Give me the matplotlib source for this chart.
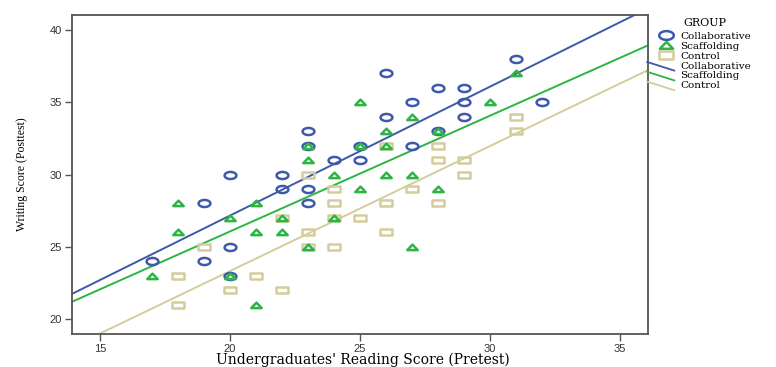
import numpy as np
import matplotlib
matplotlib.use("Agg")
import matplotlib.pyplot as plt
from matplotlib.path import Path
from matplotlib.lines import Line2D
from matplotlib.legend_handler import HandlerLine2D

# pretest / posttest scores
collab_x = [17, 19, 19, 20, 20, 20, 22, 22, 23, 23, 23, 23, 24, 25, 25, 26, 26,
            27, 27, 28, 28, 29, 29, 29, 31, 32]
collab_y = [24, 28, 24, 30, 25, 23, 30, 29, 33, 32, 29, 28, 31, 32, 31, 37, 34,
            35, 32, 36, 33, 36, 35, 34, 38, 35]

scaff_x = [17, 18, 18, 20, 20, 21, 21, 21, 22, 22, 23, 23, 23, 24, 24, 25, 25,
           25, 26, 26, 26, 27, 27, 27, 28, 28, 30, 31]
scaff_y = [23, 28, 26, 27, 23, 28, 26, 21, 27, 26, 32, 31, 25, 30, 27, 35, 32,
           29, 33, 32, 30, 34, 30, 25, 33, 29, 35, 37]

control_x = [18, 18, 19, 20, 21, 22, 22, 23, 23, 23, 24, 24, 24, 24, 25, 26, 26,
             26, 27, 28, 28, 28, 29, 29, 31, 31]
control_y = [23, 21, 25, 22, 23, 27, 22, 30, 26, 25, 29, 28, 27, 25, 27, 32, 28,
             26, 29, 32, 31, 28, 31, 30, 34, 33]

# fit lines (some points overlap, so refitting drifts)
fit_intercepts = [9.32, 10.04, 6.02]
fit_slopes = [0.892, 0.801, 0.865]

groups = ["Collaborative", "Scaffolding", "Control"]
colors = ["#3E58AC", "#2DB544", "#D4CD9B"]

# stretched marker shapes (the original picture is widened)
t = np.linspace(0, 2 * np.pi, 41)
ellipse = Path(np.column_stack([np.cos(t), 0.6 * np.sin(t)]), closed=True)
tri = Path([(-1, -0.5), (1, -0.5), (0, 0.55), (-1, -0.5)], closed=True)
rect = Path([(-1, -0.62), (1, -0.62), (1, 0.62), (-1, 0.62), (-1, -0.62)], closed=True)
shapes = [ellipse, tri, rect]
sizes = [8.5, 7.5, 8.0]


class SlantHandler(HandlerLine2D):
    def create_artists(self, legend, orig_handle, xdescent, ydescent,
                       width, height, fontsize, trans):
        ln = Line2D([-xdescent - 8, width - xdescent + 1],
                    [height * 0.9, height * 0.1 - 2],
                    color=orig_handle.get_color(), lw=1.3)
        ln.set_transform(trans)
        return [ln]


fig = plt.figure(figsize=(7.76, 3.67), dpi=100)
ax = fig.add_axes([0.0928, 0.0899, 0.7423, 0.8692])

xlim = (13.92, 36.08)
ylim = (18.96, 41.04)

data = [(collab_x, collab_y), (scaff_x, scaff_y), (control_x, control_y)]
order = [0, 2, 1]
for i in order:
    x, y = data[i]
    ax.plot(x, y, linestyle="none", marker=shapes[i], markersize=sizes[i],
            markerfacecolor="none", markeredgecolor=colors[i],
            markeredgewidth=1.8, zorder=3)

fit_lines = []
xs = np.array(xlim)
for i in range(3):
    ln, = ax.plot(xs, fit_intercepts[i] + fit_slopes[i] * xs, color=colors[i],
                  lw=1.4, zorder=2)
    fit_lines.append(ln)

ax.set_xlim(*xlim)
ax.set_ylim(*ylim)
ax.set_xticks([15, 20, 25, 30, 35])
ax.set_yticks([20, 25, 30, 35, 40])
for s in ax.spines.values():
    s.set_color("#555555")
    s.set_linewidth(1.3)
ax.tick_params(direction="out", length=5, width=1, color="#555555",
               labelsize=8, labelcolor="#333333", pad=2)
for lab in ax.get_xticklabels() + ax.get_yticklabels():
    lab.set_family("Liberation Sans")

fig.text(0.4677, 3 / 367, "Undergraduates' Reading Score (Pretest)",
         family="DejaVu Serif", fontsize=10, ha="center", va="baseline")
ax.set_ylabel("Writing Score (Posttest)", family="Liberation Serif",
              fontsize=8.5, labelpad=16)

handles = []
for i in range(3):
    handles.append(Line2D([], [], linestyle="none", marker=shapes[i],
                          markersize=sizes[i] + 2, markerfacecolor="none",
                          markeredgecolor=colors[i], markeredgewidth=1.8))
handles += fit_lines
labels = groups + groups
hmap = {ln: SlantHandler() for ln in fit_lines}
leg = ax.legend(handles, labels, loc="upper left", bbox_to_anchor=(1.016, 0.995),
                frameon=False, prop={"family": "DejaVu Serif", "size": 7.5},
                title="GROUP", title_fontproperties={"family": "DejaVu Serif", "size": 8},
                handlelength=1.4, handletextpad=0.7, labelspacing=0.05,
                borderaxespad=0.0, borderpad=0.1, handler_map=hmap)
leg._legend_box.sep = 3

fig.savefig("out.png", dpi=100)
